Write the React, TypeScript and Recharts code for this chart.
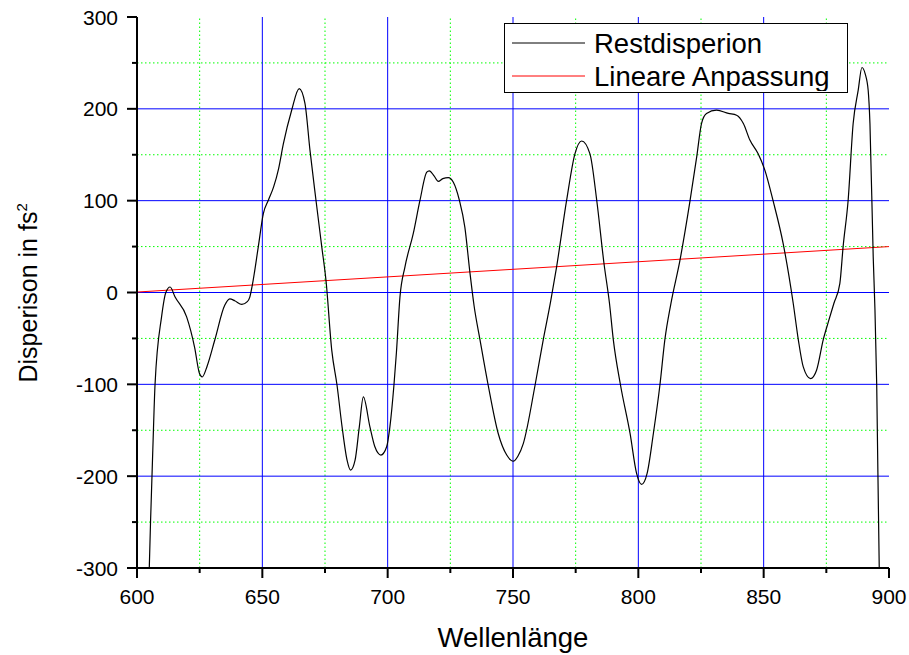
import { LineChart, Line, XAxis, YAxis, ReferenceLine, Legend, Label } from "recharts";

const FONT = '"Liberation Sans", Arial, sans-serif';

// Restdispersion
const restX = [
  604.6, 605.4, 606.3, 607.2, 609.8, 611.5, 613.2, 615.2, 619.8, 623, 624.9, 626, 628, 631, 635, 637, 639,
  641.8, 644, 645, 646, 648.4, 650.4, 652.4, 654.5, 656.5, 658.4, 661.7, 664.7, 667, 669, 671.4, 673.7,
  675.4, 677.7, 679.8, 681.8, 683.8, 685.2, 687, 688.7, 690.3, 692.9, 694.9, 697.3, 699.6, 700.9, 702.5,
  703.5, 704.9, 706.9, 710.2, 712.9, 715.6, 716.6, 718.5, 720.2, 722, 724.2, 726.2, 728.6, 730.8, 732.8,
  734.5, 736.8, 740.1, 744.1, 747.5, 750.1, 752, 754.1, 758.8, 762.1, 765, 767.4, 771.4, 774.7, 777.4,
  780.7, 783.4, 786.3, 788.5, 790, 792.9, 796.7, 799.3, 801.3, 803.5, 806, 808.6, 810.6, 813, 816.6,
  820.6, 823.3, 825.2, 827.2, 831.2, 835.9, 839.2, 841.9, 844.5, 847.8, 850.5, 853.8, 857.8, 861.8,
  863.8, 865.8, 868.7, 871.1, 873.8, 875.8, 878, 880.4, 881.7, 883.7, 885.7, 887.7, 889.2, 890.5, 891.7,
  892.4, 893.7, 894.4, 895.1, 896.1, 896.5,
];
const restY = [
  -330, -250, -172, -100, -26.5, 0, 6, -5, -26.5, -60, -88, -92, -80, -52, -14, -7, -9,
  -13, -10, -5, 8, 50, 86, 100.5, 115, 135, 162, 198.5, 222, 206, 155, 100.5, 50,
  13, -63, -101, -146, -182.6, -193.5, -182.6, -146, -113.7, -146, -168, -177, -168, -146, -101,
  -65, -5, 28, 64, 100.5, 131, 132.5, 127, 121, 124, 125, 120, 100.5, 71, 22,
  -15, -51, -101, -153.5, -177, -183.7, -178, -164.5, -101, -51, -10, 28, 100.5, 151, 165,
  151, 100.5, 31.6, -12, -51, -101, -153.5, -197, -209, -197, -153.5, -101, -51, -12, 35,
  99.4, 148, 184, 195, 198.5, 195, 193, 184, 166, 151, 133, 99.4, 53, -12,
  -51, -81, -93.7, -84.6, -51, -32, -12, 10, 50, 100.5, 184, 220, 245, 238, 220,
  184, 39, -19, -101, -299, -340,
];

// Lineare Anpassung
const fitX = [600, 900];
const fitY = [0.5, 50];

const xTicks = [600, 625, 650, 675, 700, 725, 750, 775, 800, 825, 850, 875, 900];
const yTicks = [-300, -250, -200, -150, -100, -50, 0, 50, 100, 150, 200, 250, 300];
const xMajorGrid = [650, 700, 750, 800, 850];
const xMinorGrid = [625, 675, 725, 775, 825, 875];
const yMajorGrid = [-200, -100, 0, 100, 200];
const yMinorGrid = [-250, -150, -50, 50, 150, 250];

const restData = restX.map((x, i) => ({ x, y: restY[i] }));
const fitData = fitX.map((x, i) => ({ x, y: fitY[i] }));

const BottomTick = (p: any) => {
  const { x, y, payload } = p;
  const major = payload.value % 50 === 0;
  return (
    <g>
      <line x1={x} x2={x} y1={y} y2={y + (major ? 10 : 5)} stroke="#000" strokeWidth={2} />
      {major && (
        <text x={x} y={y + 36} textAnchor="middle" fontSize={21} fontFamily={FONT} fill="#000">
          {payload.value}
        </text>
      )}
    </g>
  );
};

const TopTick = (p: any) => {
  const { x, y, payload } = p;
  const major = payload.value % 50 === 0;
  return <line x1={x} x2={x} y1={y} y2={y + (major ? 10 : 6)} stroke="#000" strokeWidth={2} />;
};

const LeftTick = (p: any) => {
  const { x, y, payload } = p;
  const major = payload.value % 100 === 0;
  return (
    <g>
      <line x1={x - (major ? 10 : 5)} x2={x} y1={y} y2={y} stroke="#000" strokeWidth={2} />
      {major && (
        <text x={x - 19} y={y + 7.5} textAnchor="end" fontSize={21} fontFamily={FONT} fill="#000">
          {payload.value}
        </text>
      )}
    </g>
  );
};

const RightTick = (p: any) => {
  const { x, y, payload } = p;
  const major = payload.value % 100 === 0;
  return <line x1={x - (major ? 10 : 6)} x2={x} y1={y} y2={y} stroke="#000" strokeWidth={2} />;
};

const YTitle = (p: any) => {
  const vb = p.viewBox;
  const tx = vb.x + 37;
  const ty = vb.y + vb.height / 2 + 90;
  return (
    <text x={tx} y={ty} transform={`rotate(-90, ${tx}, ${ty})`} fontSize={25} fontFamily={FONT} fill="#000">
      Disperison in fs
      <tspan dy={-10} fontSize={15}>2</tspan>
    </text>
  );
};

const XTitle = (p: any) => {
  const vb = p.viewBox;
  return (
    <text x={vb.x + vb.width / 2} y={vb.y + 79} textAnchor="middle" fontSize={27.5} fontFamily={FONT} fill="#000">
      Wellenlänge
    </text>
  );
};

const LegendBox = () => (
  <div style={{ width: 344, height: 70, border: "1.5px solid #000", boxSizing: "border-box", background: "#fff" }}>
    <svg width={341} height={67} style={{ display: "block" }}>
      <line x1={7} x2={80} y1={19} y2={19} stroke="#000" strokeWidth={1} />
      <text x={89} y={28.5} fontSize={27.5} fontFamily={FONT} fill="#000">Restdisperion</text>
      <line x1={7} x2={80} y1={52} y2={52} stroke="#ff0000" strokeWidth={1} />
      <text x={89} y={61.5} fontSize={27.5} fontFamily={FONT} fill="#000">Lineare Anpassung</text>
    </svg>
  </div>
);

export default function App() {
  return (
    <div style={{ position: "absolute", left: 0, top: 0, width: 909, height: 655, background: "#fff" }}>
      <LineChart width={909} height={655} margin={{ top: 17, right: 20, left: 0, bottom: 0 }}>
        <XAxis
          type="number"
          dataKey="x"
          domain={[600, 900]}
          ticks={xTicks}
          interval={0}
          allowDataOverflow
          height={87}
          tickSize={0}
          tickMargin={0}
          tickLine={false}
          tick={<BottomTick />}
          axisLine={{ stroke: "#000", strokeWidth: 2 }}
        >
          <Label content={<XTitle />} />
        </XAxis>
        <XAxis
          xAxisId="top"
          orientation="top"
          type="number"
          dataKey="x"
          domain={[600, 900]}
          ticks={xTicks}
          interval={0}
          allowDataOverflow
          height={0}
          tickSize={0}
          tickMargin={0}
          tickLine={false}
          tick={<TopTick />}
          axisLine={{ stroke: "#000", strokeWidth: 2 }}
        />
        <YAxis
          type="number"
          domain={[-300, 300]}
          ticks={yTicks}
          interval={0}
          allowDataOverflow
          width={137}
          tickSize={0}
          tickMargin={0}
          tickLine={false}
          tick={<LeftTick />}
          axisLine={{ stroke: "#000", strokeWidth: 2 }}
        >
          <Label content={<YTitle />} />
        </YAxis>
        <YAxis
          yAxisId="right"
          orientation="right"
          type="number"
          domain={[-300, 300]}
          ticks={yTicks}
          interval={0}
          allowDataOverflow
          width={0}
          tickSize={0}
          tickMargin={0}
          tickLine={false}
          tick={<RightTick />}
          axisLine={{ stroke: "#000", strokeWidth: 2 }}
        />
        {xMinorGrid.map((v) => (
          <ReferenceLine key={"xm" + v} x={v} stroke="#00ff00" strokeDasharray="1.5 2.5" />
        ))}
        {yMinorGrid.map((v) => (
          <ReferenceLine key={"ym" + v} y={v} stroke="#00ff00" strokeDasharray="1.5 2.5" />
        ))}
        {xMajorGrid.map((v) => (
          <ReferenceLine key={"xM" + v} x={v} stroke="#0000ff" />
        ))}
        {yMajorGrid.map((v) => (
          <ReferenceLine key={"yM" + v} y={v} stroke="#0000ff" />
        ))}
        <Line
          data={fitData}
          dataKey="y"
          name="Lineare Anpassung"
          type="linear"
          stroke="#ff0000"
          strokeWidth={1}
          dot={false}
          isAnimationActive={false}
        />
        <Line
          data={restData}
          dataKey="y"
          name="Restdisperion"
          type="monotone"
          stroke="#000"
          strokeWidth={1.2}
          dot={false}
          isAnimationActive={false}
        />
        <Legend
          layout="vertical"
          verticalAlign="middle"
          align="center"
          content={<LegendBox />}
          wrapperStyle={{ left: 504, top: 23, width: 344, height: 70 }}
        />
      </LineChart>
    </div>
  );
}
